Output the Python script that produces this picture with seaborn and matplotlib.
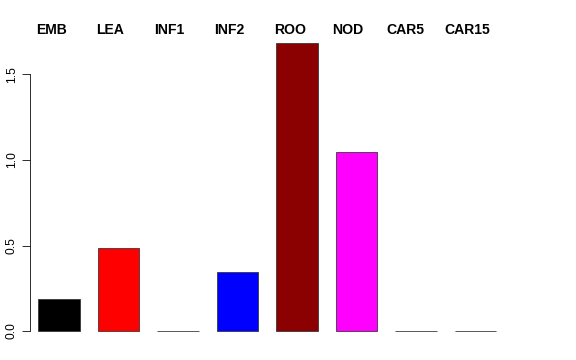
import matplotlib
matplotlib.use('Agg')
import matplotlib.pyplot as plt
import seaborn as sns
import pandas as pd

# Valores
tissues = ['EMB', 'LEA', 'INF1', 'INF2', 'ROO', 'NOD', 'CAR5', 'CAR15']
values = [0.187, 0.485, 0.0, 0.345, 1.684, 1.047, 0.0, 0.0]
colors = ['black', 'red', 'white', 'blue', 'darkred', 'magenta', 'white', 'white']

df = pd.DataFrame({'tissue': tissues, 'value': values})

sns.set_style('white')
plt.rcParams['font.family'] = ['Liberation Sans', 'DejaVu Sans']
plt.rcParams['text.color'] = 'black'
plt.rcParams['ytick.color'] = 'black'

fig = plt.figure(figsize=(8, 5), dpi=72)
W, H = 576, 360
left, right, top, bottom = 30, 546, 40, 340
ax = fig.add_axes([left / W, 1 - bottom / H, (right - left) / W, (bottom - top) / H])

sns.barplot(data=df, x='tissue', y='value', hue='tissue', palette=colors,
            legend=False, width=0.69, edgecolor='#333333', linewidth=0.8,
            saturation=1, ax=ax)

# Limites para reproduzir a posição das barras
ax.set_xlim(-(59 - left) / 59.5, (right - 59) / 59.5)
ax.set_ylim(-(bottom - 331) / 171, (331 - top) / 171)

for s in ['top', 'right', 'bottom']:
    ax.spines[s].set_visible(False)
ax.spines['left'].set_bounds(0, 1.5)
ax.spines['left'].set_color('black')
ax.spines['left'].set_linewidth(0.8)
ax.set_yticks([0, 0.5, 1.0, 1.5])
ax.set_yticklabels(['0.0', '0.5', '1.0', '1.5'], rotation=90, va='center', fontsize=12)
ax.tick_params(axis='y', left=True, length=8, width=0.8, pad=4, direction='out')
ax.set_xticks([])
ax.set_xlabel('')
ax.set_ylabel('')

# Nomes dos tecidos no topo (posição esquerda em pixels, como no original)
label_left_px = [36, 96, 154, 214, 274, 332, 386, 444]
for name, px in zip(tissues, label_left_px):
    fig.text(px / W, 1 - 29.5 / H, name, ha='left', va='center',
             fontsize=14, fontweight='bold', color='black')

fig.savefig('out.png', dpi=72)
